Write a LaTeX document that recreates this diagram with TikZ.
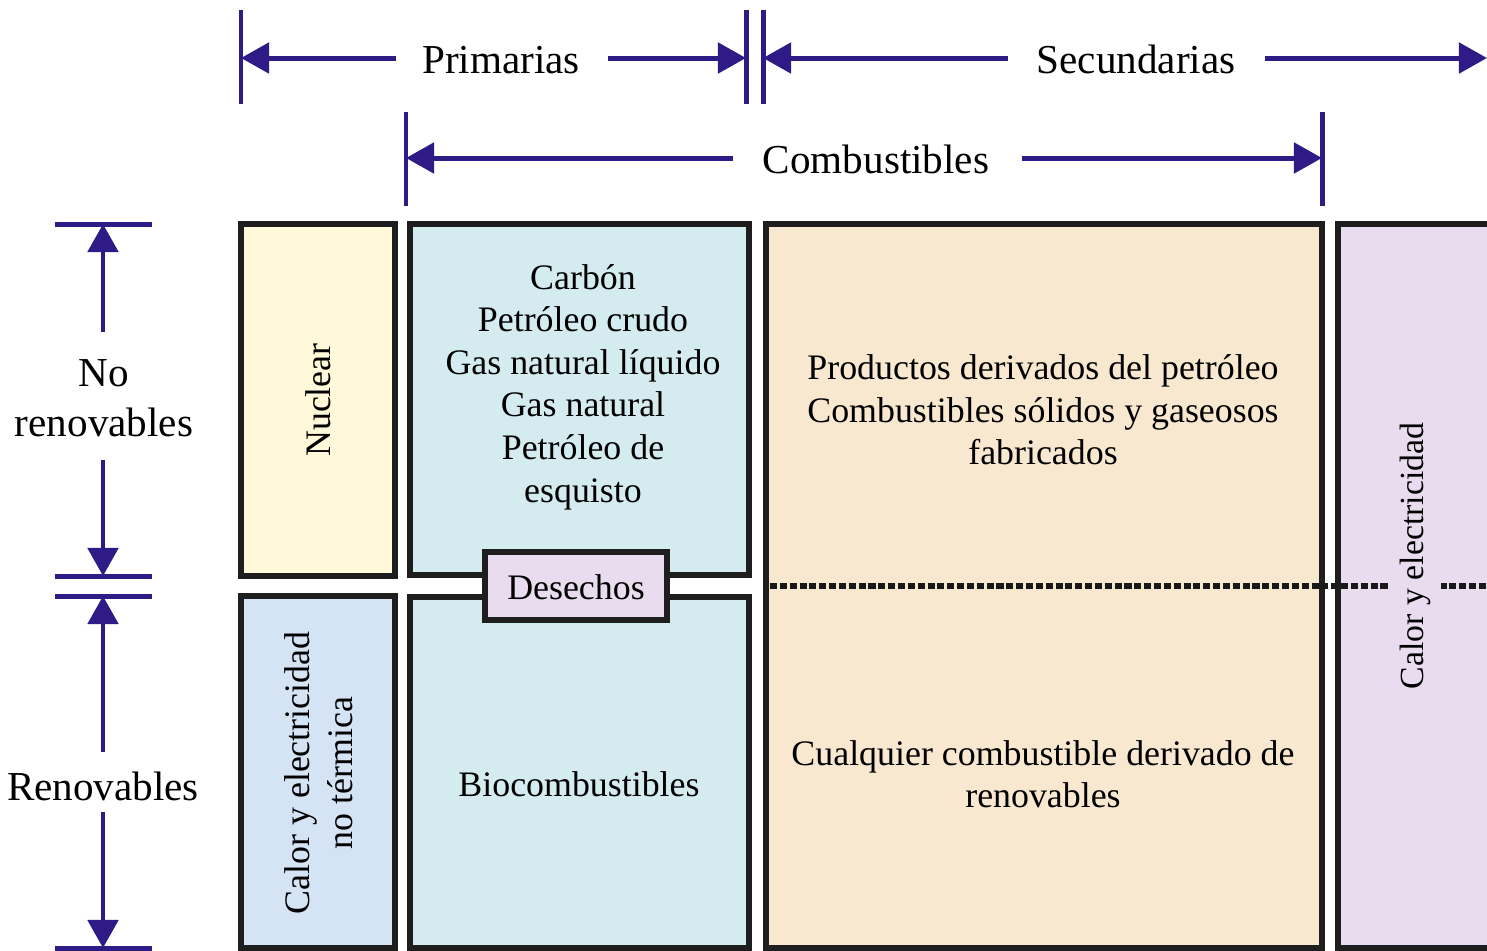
\documentclass[tikz,border=0pt]{standalone}
\usepackage{fontspec}
\setmainfont{Liberation Serif}
\usetikzlibrary{arrows.meta}
\definecolor{dimblue}{RGB}{46,27,134}
\definecolor{edgecol}{RGB}{30,30,30}
\definecolor{nucfill}{RGB}{255,248,217}
\definecolor{bluefill}{RGB}{212,236,240}
\definecolor{skyfill}{RGB}{213,228,244}
\definecolor{orfill}{RGB}{249,232,208}
\definecolor{purfill}{RGB}{232,220,238}
\tikzset{
  dimbar/.style={draw=dimblue, line width=1.42pt},
  dimarr/.style={draw=dimblue, line width=1.42pt, -{Triangle[length=0.28cm,width=0.30cm,fill=dimblue]}},
  lab/.style={font=\fontsize{11.7}{14.2}\selectfont, align=center, inner sep=0pt},
  txt/.style={font=\fontsize{10.2}{12.1}\selectfont, align=center, inner sep=0pt},
  boxx/.style={draw=edgecol, line width=1.8pt, inner sep=0pt, rectangle},
  dashline/.style={draw=black!90, line width=1.7pt, dash pattern=on 2pt off 0.8pt}
}
\begin{document}
\begin{tikzpicture}[x=0.01cm,y=-0.01cm]
\clip (0,0) rectangle (1487,951);
\fill[white] (0,0) rectangle (1487,951);

% ---------- boxes ----------
\node[boxx, fill=nucfill, minimum width=1.54cm, minimum height=3.52cm] (nucbox) at (318,400) {};
\node[boxx, fill=skyfill, minimum width=1.54cm, minimum height=3.52cm] (ntbox) at (318,772) {};
\node[boxx, fill=bluefill, minimum width=3.39cm, minimum height=3.51cm] (fosbox) at (579.5,399.5) {};
\node[boxx, fill=bluefill, minimum width=3.39cm, minimum height=3.51cm] (biobox) at (579.5,772.5) {};
\node[boxx, fill=orfill, minimum width=5.56cm, minimum height=7.24cm] (orbox) at (1044,586) {};
\node[boxx, fill=purfill, minimum width=2.00cm, minimum height=7.24cm] (purbox) at (1438,586) {};
\node[boxx, fill=purfill, minimum width=1.82cm, minimum height=0.68cm] (desbox) at (576,586) {};

% ---------- dashed separator ----------
\coordinate (dashA) at (770,586);
\coordinate (dashB) at (1487,586);
\draw[dashline] (dashA) -- (dashB);

% ---------- box texts ----------
\node[txt, rotate=90] (nuctext) at (318,400) {Nuclear};
\node[txt, rotate=90] (nttext) at (319,773) {Calor y electricidad\\no térmica};
\node[txt] (fostext) at (583,387) {Carbón\\Petróleo crudo\\Gas natural líquido\\Gas natural\\Petróleo de\\esquisto};
\node[txt] (biotext) at (579,784) {Biocombustibles};
\node[txt] (destext) at (576,587) {Desechos};
\node[txt] (ortextA) at (1043,410) {Productos derivados del petróleo\\Combustibles sólidos y gaseosos\\fabricados};
\node[txt] (ortextB) at (1043,774) {Cualquier combustible derivado de\\renovables};
\node[txt, font=\fontsize{9.6}{12}\selectfont, rotate=90, fill=purfill, inner sep=3pt] (purtext) at (1415,556) {Calor y electricidad};

% ---------- top dimension: Primarias / Secundarias ----------
\coordinate (b1t) at (241,10);  \coordinate (b1b) at (241,104);
\coordinate (b2t) at (746,10);  \coordinate (b2b) at (746,104);
\coordinate (b3t) at (763,10);  \coordinate (b3b) at (763,104);
\draw[dimbar] (b1t) -- (b1b);
\draw[dimbar] (b2t) -- (b2b);
\draw[dimbar] (b3t) -- (b3b);
\node[lab] (prim) at (501,60) {Primarias};
\node[lab] (secu) at (1136,59) {Secundarias};
\coordinate (p1s) at (396,58); \coordinate (p1e) at (241,58);
\coordinate (p2s) at (608,58); \coordinate (p2e) at (746,58);
\coordinate (s1s) at (1008,58); \coordinate (s1e) at (763,58);
\coordinate (s2s) at (1265,58); \coordinate (s2e) at (1487,58);
\draw[dimarr] (p1s) -- (p1e);
\draw[dimarr] (p2s) -- (p2e);
\draw[dimarr] (s1s) -- (s1e);
\draw[dimarr] (s2s) -- (s2e);

% ---------- Combustibles dimension ----------
\coordinate (c1t) at (406,112); \coordinate (c1b) at (406,206);
\coordinate (c2t) at (1322,112); \coordinate (c2b) at (1322,206);
\draw[dimbar] (c1t) -- (c1b);
\draw[dimbar] (c2t) -- (c2b);
\node[lab] (comb) at (876,159) {Combustibles};
\coordinate (cs1) at (733,158); \coordinate (ce1) at (406,158);
\coordinate (cs2) at (1022,158); \coordinate (ce2) at (1322,158);
\draw[dimarr] (cs1) -- (ce1);
\draw[dimarr] (cs2) -- (ce2);

% ---------- left dimension ----------
\coordinate (h1l) at (55,224); \coordinate (h1r) at (152,224);
\coordinate (h2l) at (55,576); \coordinate (h2r) at (152,576);
\coordinate (h3l) at (55,596); \coordinate (h3r) at (152,596);
\coordinate (h4l) at (55,948); \coordinate (h4r) at (152,948);
\draw[dimbar] (h1l) -- (h1r);
\draw[dimbar] (h2l) -- (h2r);
\draw[dimbar] (h3l) -- (h3r);
\draw[dimbar] (h4l) -- (h4r);
\node[lab] (norenov) at (104,398) {No\\renovables};
\node[lab] (renov) at (103,786) {Renovables};
\coordinate (n1s) at (103,332); \coordinate (n1e) at (103,224);
\coordinate (n2s) at (103,460); \coordinate (n2e) at (103,576);
\coordinate (r1s) at (103,752); \coordinate (r1e) at (103,596);
\coordinate (r2s) at (103,812); \coordinate (r2e) at (103,948);
\draw[dimarr] (n1s) -- (n1e);
\draw[dimarr] (n2s) -- (n2e);
\draw[dimarr] (r1s) -- (r1e);
\draw[dimarr] (r2s) -- (r2e);
\end{tikzpicture}
\end{document}
